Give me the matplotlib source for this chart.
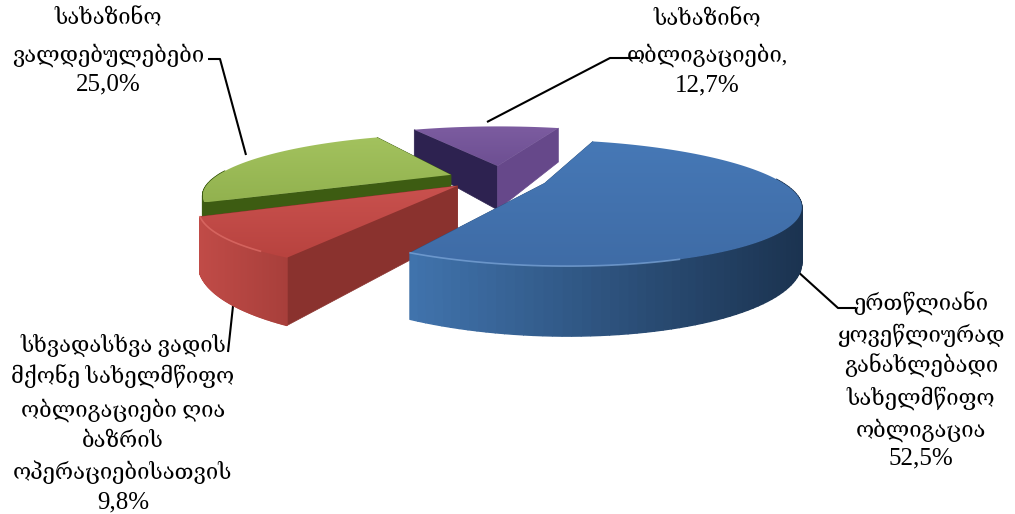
import numpy as np
import matplotlib
matplotlib.use('Agg')
import matplotlib.pyplot as plt
from matplotlib.colors import to_rgb, LinearSegmentedColormap
from matplotlib.patches import Polygon

plt.rcParams['font.family'] = ['Liberation Serif', 'DejaVu Serif', 'DejaVu Sans']

# slices, clockwise from the back of the pie
values = [52.5, 9.8, 25.0, 12.7]
label_lines = [
    ['ერთწლიანი', 'ყოვეწლიურად', 'განახლებადი', 'სახელმწიფო', 'ობლიგაცია', '52,5%'],
    ['სხვადასხვა ვადის', 'მქონე სახელმწიფო', 'ობლიგაციები ღია', 'ბაზრის', 'ოპერაციებისათვის', '9,8%'],
    ['სახაზინო', 'ვალდებულებები', '25,0%'],
    ['სახაზინო', 'ობლიგაციები,', '12,7%'],
]
label_x = [921, 123, 108, 707]
label_y = [[304, 335, 366, 398, 430, 458], [345, 377, 410, 442, 472, 502], [19, 55, 84], [20, 55, 85]]

# colours: top light/dark, outer wall left/right, cut wall at arc start, cut wall at arc end
tops = [('#4678b6', '#3f6ca6'), ('#c9514e', '#b8433f'), ('#a3c25e', '#92b24f'), ('#7c5ca0', '#6d4f92')]
outer = [('#4174ae', '#1b3350'), ('#c04b47', '#a83f3b'), ('#3d5c12', '#3d5c12'), ('#66488a', '#66488a')]
cut_a = ['#2c5382', '#8a322e', '#3d5c12', '#2d2250']
cut_b = ['#2c5382', '#8a322e', '#3d5c12', '#66488a']
radius = [1.0, 1.0, 1.02, 1.10]
explode = [0.24, 0.20, 0.19, 0.24]
nudge_x = [0, 0, 0, 9]

# leader lines
leaders = [
    ([796, 838, 856], [270, 308, 308]),
    ([233, 228], [306, 352]),
    ([208, 220, 246], [59, 59, 155]),
    ([487, 610, 640], [122, 58, 58]),
]

CX, CY, A, B, H, P = 492, 178, 232, 54, 47, 0.3
START = 71.0


def project(X, Y, z=0.0, dx=0):
    w = 1 + P * Y
    return CX + dx + A * X / w, CY - B * Y / w + z * H / w


def shaded_wall(ax, xs0, ys0, xs1, ys1, c0, c1, zorder):
    # colour runs with screen x so the right side ends up darkest
    c0, c1 = np.array(to_rgb(c0)), np.array(to_rgb(c1))
    lo, hi = xs0.min(), xs0.max()
    for k in range(len(xs0) - 1):
        col = c0 + (c1 - c0) * (xs0[k] - lo) / (hi - lo)
        ax.fill([xs0[k], xs0[k + 1], xs1[k + 1], xs1[k]],
                [ys0[k], ys0[k + 1], ys1[k + 1], ys1[k]],
                color=col, lw=1.0, zorder=zorder)


fig = plt.figure(figsize=(10.15, 5.14), dpi=100)
ax = fig.add_axes([0, 0, 1, 1])

# walk round the pie from the values
ends = START - np.cumsum(values) * 3.6
starts = np.r_[START, ends[:-1]]

# back to front: purple, green, red, blue
for z, i in enumerate([3, 2, 1, 0]):
    th = np.radians(np.linspace(starts[i], ends[i], 120))
    mid = np.radians((starts[i] + ends[i]) / 2)
    ox, oy = explode[i] * np.cos(mid), explode[i] * np.sin(mid)
    X = ox + radius[i] * np.cos(th)
    Y = oy + radius[i] * np.sin(th)
    zo = 10 + z * 5
    dx = nudge_x[i]

    # the two cut faces
    for Xe, Ye, col in [(X[0], Y[0], cut_a[i]), (X[-1], Y[-1], cut_b[i])]:
        xs, ys = zip(*[project(ox, oy, 0, dx), project(Xe, Ye, 0, dx),
                       project(Xe, Ye, 1, dx), project(ox, oy, 1, dx)])
        ax.fill(xs, ys, color=col, lw=0.5, zorder=zo)

    # outer wall
    x0, y0 = project(X, Y, 0, dx)
    x1, y1 = project(X, Y, 1, dx)
    front = np.sin(th) < 0.08
    if front.sum() > 1:
        shaded_wall(ax, x0[front], y0[front], x1[front], y1[front],
                    outer[i][0], outer[i][1], zo + 1)

    # top face with a soft vertical gradient
    cx0, cy0 = project(ox, oy, 0, dx)
    pts = np.column_stack([np.r_[cx0, x0], np.r_[cy0, y0]])
    patch = Polygon(pts, closed=True, fc='none', ec='none', zorder=zo + 2)
    ax.add_patch(patch)
    cmap = LinearSegmentedColormap.from_list('t', tops[i])
    im = ax.imshow(np.linspace(0, 1, 64).reshape(-1, 1), cmap=cmap, aspect='auto',
                   extent=[pts[:, 0].min(), pts[:, 0].max(), pts[:, 1].max(), pts[:, 1].min()],
                   zorder=zo + 2)
    im.set_clip_path(patch)

    # bright rim on the lit front edge
    if i in (0, 1):
        rim = front & (x0 < x0.min() + (x0.max() - x0.min()) * 0.7)
        ax.plot(x0[rim], y0[rim], color='#7fa9dc' if i == 0 else '#e0706a', lw=1.2,
                alpha=0.7, zorder=zo + 3)

for xs, ys in leaders:
    ax.plot(xs, ys, color='black', lw=1.5, zorder=5, solid_capstyle='butt')

for i, lines in enumerate(label_lines):
    for txt, y in zip(lines, label_y[i]):
        size = 18 if txt.endswith('%') else 15.8
        ax.text(label_x[i], y, txt, ha='center', va='center', fontsize=size, color='black', zorder=50)

ax.set_xlim(0, 1015)
ax.set_ylim(514, 0)
ax.axis('off')
fig.savefig('out.png', dpi=100, facecolor='white')
